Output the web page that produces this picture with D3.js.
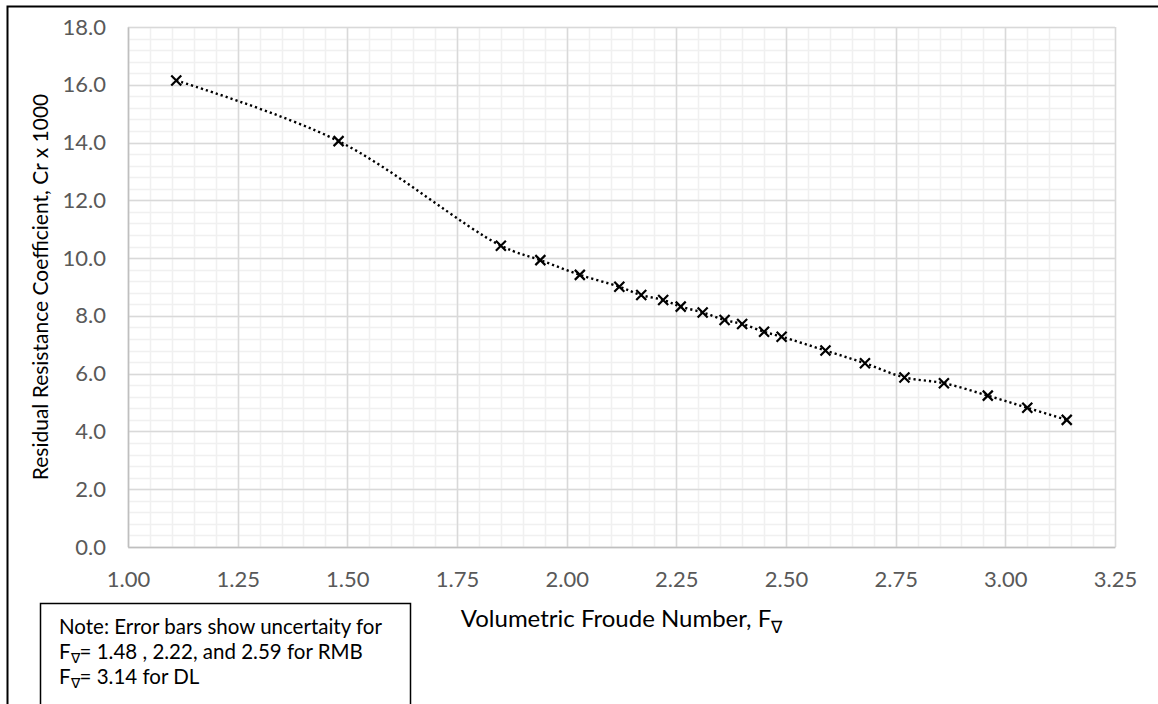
<!DOCTYPE html>
<html>
<head>
<meta charset="utf-8">
<script src="https://cdn.jsdelivr.net/npm/d3@7"></script>
<style>
  body { margin: 0; background: #fff; }
  text { font-family: Lato, 'Open Sans', sans-serif; }
</style>
</head>
<body>
<script>
// data
var froude = [1.11, 1.48, 1.85, 1.94, 2.03, 2.12, 2.17, 2.22, 2.26, 2.31, 2.36,
              2.40, 2.45, 2.49, 2.59, 2.68, 2.77, 2.86, 2.96, 3.05, 3.14];
var crValues = [16.15, 14.05, 10.43, 9.93, 9.42, 9.01, 8.72, 8.55, 8.32, 8.12, 7.86,
                7.72, 7.45, 7.28, 6.80, 6.36, 5.87, 5.67, 5.24, 4.82, 4.40];
var xTicks = [1.00, 1.25, 1.50, 1.75, 2.00, 2.25, 2.50, 2.75, 3.00, 3.25];
var yTicks = [0, 2, 4, 6, 8, 10, 12, 14, 16, 18];
var noteLines = ['Note: Error bars show uncertaity for',
                 ['F', '= 1.48 , 2.22, and 2.59 for RMB'],
                 ['F', '= 3.14 for DL']];

const W = 1158, H = 704;
const plotL = 128, plotR = 1115, plotT = 27, plotB = 547;

var data = froude.map(function(f, i) { return { x: f, y: crValues[i] }; });

var svg = d3.select('body').append('svg')
  .attr('width', W)
  .attr('height', H);

svg.append('rect').attr('width', W).attr('height', H).attr('fill', '#fff');

// outer chart frame (runs off the right and bottom)
svg.append('rect')
  .attr('x', 7.5).attr('y', 6.5)
  .attr('width', W + 20).attr('height', H + 20)
  .attr('fill', 'none').attr('stroke', '#000').attr('stroke-width', 2);

var xScale = d3.scaleLinear().domain([1, 3.25]).range([plotL, plotR]);
var yScale = d3.scaleLinear().domain([0, 18]).range([plotB, plotT]);

// minor grid
var xMinor = d3.range(1, 3.2501, 0.05);
var yMinor = d3.range(0, 18.001, 0.4);
svg.append('g').selectAll('line').data(xMinor).enter().append('line')
  .attr('x1', d => Math.round(xScale(d)) + 0.5).attr('x2', d => Math.round(xScale(d)) + 0.5)
  .attr('y1', plotT).attr('y2', plotB)
  .attr('stroke', '#f0f0f0').attr('stroke-width', 1.5);
svg.append('g').selectAll('line').data(yMinor).enter().append('line')
  .attr('y1', d => Math.round(yScale(d)) + 0.5).attr('y2', d => Math.round(yScale(d)) + 0.5)
  .attr('x1', plotL).attr('x2', plotR)
  .attr('stroke', '#f0f0f0').attr('stroke-width', 1.5);

// major grid
svg.append('g').selectAll('line').data(xTicks).enter().append('line')
  .attr('x1', d => Math.round(xScale(d)) + 0.5).attr('x2', d => Math.round(xScale(d)) + 0.5)
  .attr('y1', plotT).attr('y2', plotB)
  .attr('stroke', '#d9d9d9').attr('stroke-width', 1.5);
svg.append('g').selectAll('line').data(yTicks).enter().append('line')
  .attr('y1', d => Math.round(yScale(d)) + 0.5).attr('y2', d => Math.round(yScale(d)) + 0.5)
  .attr('x1', plotL).attr('x2', plotR)
  .attr('stroke', '#d9d9d9').attr('stroke-width', 1.5);

// axes
var xAxis = d3.axisBottom(xScale).tickValues(xTicks).tickFormat(d3.format('.2f')).tickSize(0).tickPadding(24);
var yAxis = d3.axisLeft(yScale).tickValues(yTicks).tickFormat(d3.format('.1f')).tickSize(0).tickPadding(22);

var gx = svg.append('g').attr('transform', 'translate(0,' + plotB + ')').call(xAxis);
var gy = svg.append('g').attr('transform', 'translate(' + plotL + ',0)').call(yAxis);
[gx, gy].forEach(function(g) {
  g.select('.domain').attr('stroke', '#bfbfbf').attr('stroke-width', 1.5);
  g.selectAll('text').attr('fill', '#595959').style('font-size', '22px');
});
gx.selectAll('text').attr('dy', '0.71em');

// line
var line = d3.line()
  .x(d => xScale(d.x))
  .y(d => yScale(d.y))
  .curve(d3.curveCatmullRom.alpha(0.5));

svg.append('path')
  .datum(data)
  .attr('d', line)
  .attr('fill', 'none')
  .attr('stroke', '#000')
  .attr('stroke-width', 2.4)
  .attr('stroke-dasharray', '2.2,3');

// x markers
var s = 5;
svg.append('g').selectAll('path').data(data).enter().append('path')
  .attr('d', function(d) {
    var cx = xScale(d.x), cy = yScale(d.y);
    return 'M' + (cx - s) + ',' + (cy - s) + 'L' + (cx + s) + ',' + (cy + s) +
           'M' + (cx - s) + ',' + (cy + s) + 'L' + (cx + s) + ',' + (cy - s);
  })
  .attr('stroke', '#000')
  .attr('stroke-width', 2.2)
  .attr('fill', 'none');

// axis titles
svg.append('text')
  .attr('transform', 'translate(48,' + ((plotT + plotB) / 2) + ') rotate(-90)')
  .attr('text-anchor', 'middle')
  .style('font-size', '21px')
  .attr('fill', '#000')
  .text('Residual Resistance Coefficient, Cr x 1000');

var xt = svg.append('text')
  .attr('x', (plotL + plotR) / 2)
  .attr('y', 627)
  .attr('text-anchor', 'middle')
  .style('font-size', '24px')
  .attr('fill', '#000');
xt.append('tspan').text('Volumetric Froude Number, F');
xt.append('tspan').attr('dy', 6).style('font-size', '17px').text('\u2207');

// note box
svg.append('rect')
  .attr('x', 40.5).attr('y', 603.5)
  .attr('width', 370).attr('height', 120)
  .attr('fill', '#fff').attr('stroke', '#000').attr('stroke-width', 1.5);

var noteY = [634, 659, 684];
noteLines.forEach(function(l, i) {
  var t = svg.append('text')
    .attr('x', 59).attr('y', noteY[i])
    .style('font-size', '20.5px')
    .attr('fill', '#000');
  if (typeof l === 'string') {
    t.text(l);
  } else {
    t.append('tspan').text(l[0]);
    t.append('tspan').attr('dy', 4).style('font-size', '14px').text('\u2207');
    t.append('tspan').attr('dy', -4).text(l[1]);
  }
});
</script>
</body>
</html>
